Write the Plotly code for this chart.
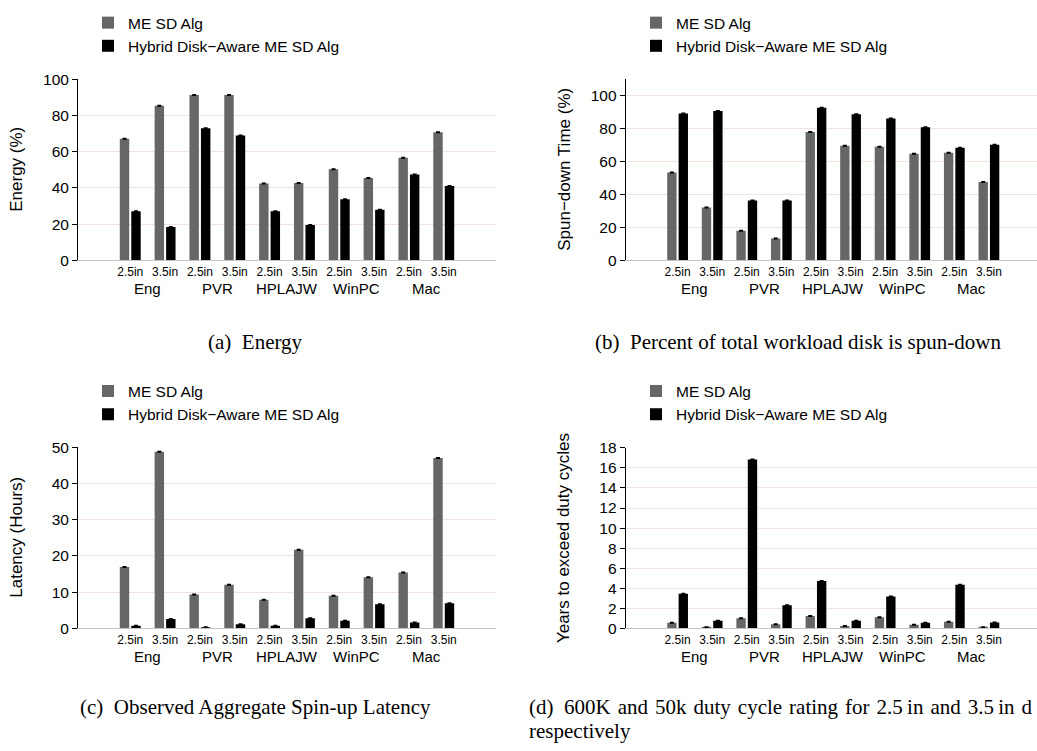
import plotly.graph_objects as go

# ---------------- data ----------------
groups = ["Eng", "PVR", "HPLAJW", "WinPC", "Mac"]
sizes = ["2.5in", "3.5in"]
series_names = ["ME SD Alg", "Hybrid Disk\u2212Aware ME SD Alg"]

energy_me = [67.1, 85.3, 91.2, 91.2, 42.5, 42.7, 50.3, 45.4, 56.7, 70.7]
energy_hy = [27.1, 18.5, 72.9, 68.9, 27.1, 19.6, 33.8, 28.0, 47.4, 41.1]

spun_me = [53.4, 32.2, 18.0, 13.4, 77.9, 69.6, 69.0, 64.8, 65.4, 47.6]
spun_hy = [89.1, 90.7, 36.4, 36.4, 92.7, 88.7, 86.2, 80.8, 68.4, 70.2]

lat_me = [16.9, 48.7, 9.35, 12.05, 7.9, 21.7, 9.0, 14.1, 15.4, 47.0]
lat_hy = [0.7, 2.6, 0.3, 1.1, 0.7, 2.8, 2.1, 6.65, 1.6, 6.9]

years_me = [0.55, 0.1, 1.0, 0.42, 1.23, 0.23, 1.1, 0.36, 0.65, 0.1]
years_hy = [3.44, 0.75, 16.83, 2.31, 4.71, 0.75, 3.18, 0.55, 4.35, 0.58]

y_titles = ["Energy (%)", "Spun\u2212down Time (%)", "Latency (Hours)", "Years to exceed duty cycles"]
y_ranges = [[0, 100], [0, 110], [0, 50], [0, 18]]
y_dticks = [20, 20, 10, 2]
SP = "\u2004"
captions = [
    "(a)  Energy",
    "(b)  Percent of total workload disk is spun-down",
    "(c)  Observed Aggregate Spin-up Latency",
    "(d)  " + SP.join(["600K", "and", "50k", "duty", "cycle", "rating", "for",
                       "2.5\u2009in", "and", "3.5\u2009in", "d"]),
    "respectively",
]

# ---------------- styling ----------------
GRAY = "#666666"
BLACK = "#000000"
GRID = "#f2e2dc"
SANS = "Liberation Sans, Arial, sans-serif"
SERIF = "Liberation Serif, Times New Roman, serif"
W, H = 1037, 751

cat_labels = [s for g in groups for s in sizes]
idx = list(range(len(cat_labels)))

panels = [
    (energy_me, energy_hy),
    (spun_me, spun_hy),
    (lat_me, lat_hy),
    (years_me, years_hy),
]

# pixel geometry of each panel: (left, right, top, bottom)
px = [
    (78, 496, 71.7, 257.3),
    (625.7, 1037, 71.8, 257.3),
    (78, 496, 448.3, 633.7),
    (625.7, 1037, 449.0, 633.7),
]
x_ranges = [[-1.5, 10.5], [-1.5, 10.39], [-1.5, 10.5], [-1.5, 10.39]]
legend_left = [88, 636, 88, 636]
legend_top = [-3, -3, 374, 374]
title_x = [17, 565, 17, 563]

fig = go.Figure()
layout = dict(
    width=W, height=H,
    margin=dict(l=0, r=0, t=0, b=0),
    paper_bgcolor="white", plot_bgcolor="white",
    barmode="group", bargap=0.34, bargroupgap=0.18,
    font=dict(family=SANS, color="black", size=14),
    annotations=[],
)

for k, (me, hy) in enumerate(panels):
    n = "" if k == 0 else str(k + 1)
    xa, ya = "x" + n, "y" + n
    leg = "legend" + n
    for vals, name, col in ((me, series_names[0], GRAY), (hy, series_names[1], BLACK)):
        fig.add_trace(go.Bar(
            x=idx, y=vals, name=name, marker=dict(color=col, line=dict(width=0)),
            error_y=dict(type="data", array=[0] * len(vals), visible=True,
                         color="black", thickness=2, width=2),
            xaxis=xa, yaxis=ya, legend=leg, showlegend=True,
        ))
    l, r, t, b = px[k]
    layout["xaxis" + n] = dict(
        domain=[l / W, r / W], anchor=ya, range=x_ranges[k],
        tickmode="array", tickvals=idx, ticktext=cat_labels,
        tickfont=dict(size=12), ticks="", showgrid=False, zeroline=False,
        showline=True, linecolor="#cfc4c2", linewidth=1,
    )
    layout["yaxis" + n] = dict(
        domain=[1 - b / H, 1 - t / H], anchor=xa, range=y_ranges[k],
        dtick=y_dticks[k], tick0=0, showgrid=True, gridcolor=GRID, gridwidth=1,
        zeroline=False, showline=True, linecolor="black", linewidth=1,
        ticks="outside", ticklen=5, tickcolor="black", tickfont=dict(size=15.5),
    )
    layout[leg] = dict(
        x=legend_left[k] / W, y=1 - legend_top[k] / H,
        xanchor="left", yanchor="top",
        bgcolor="rgba(0,0,0,0)", font=dict(size=15.5),
        tracegroupgap=0, itemwidth=30,
    )
    # y-axis title
    layout["annotations"].append(dict(
        x=title_x[k] / W, y=1 - (t + b) / 2 / H, xref="paper", yref="paper",
        text=y_titles[k], textangle=-90, showarrow=False, font=dict(size=17),
        xanchor="center", yanchor="middle",
    ))
    # group labels under each pair of categories
    for gi, g in enumerate(groups):
        gx = sum(idx[gi * len(sizes):(gi + 1) * len(sizes)]) / len(sizes)
        layout["annotations"].append(dict(
            x=gx, xref=xa, y=1 - (b + 29) / H, yref="paper",
            text=g, showarrow=False, font=dict(size=15), yanchor="middle",
        ))

# captions
cap_pos = [(255, 341, "center"), (798, 341, "center"), (255, 714, "center"),
           (527, 714, "left"), (527, 739, "left")]
for (cx, cy, al), txt in zip(cap_pos, captions):
    layout["annotations"].append(dict(
        x=cx / W, y=1 - cy / H, xref="paper", yref="paper",
        xanchor=al, yanchor="middle", align="left", text=txt, showarrow=False,
        font=dict(family=SERIF, size=21, color="black"),
    ))

fig.update_layout(**layout)
fig.write_html(
    "out.html",
    config={"displayModeBar": False},
    post_script="document.body.style.margin='0';document.body.style.overflow='hidden';",
)
